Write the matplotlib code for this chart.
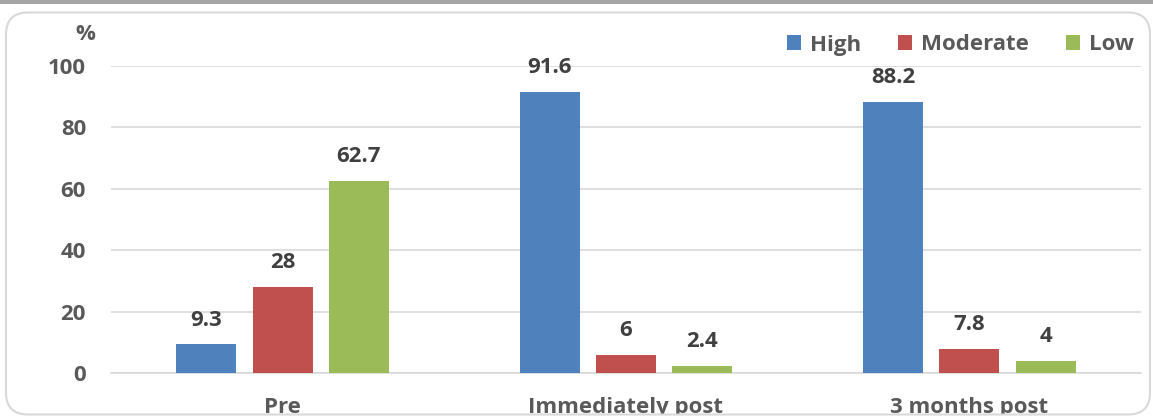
import numpy as np
import matplotlib.pyplot as plt
from matplotlib.patches import FancyBboxPatch, Rectangle, Patch

categorias = ["Pre", "Immediately post", "3 months post"]
niveis = ["High", "Moderate", "Low"]
high = [9.3, 91.6, 88.2]
moderate = [28, 6, 7.8]
low = [62.7, 2.4, 4]
yticks = [0, 20, 40, 60, 80, 100]

cores = ["#4f81bd", "#c0504d", "#9bbb59"]
cinza_texto = "#595959"
cinza_valor = "#404040"
cinza_grade = "#d9d9d9"

plt.rcParams["font.family"] = ["Open Sans", "DejaVu Sans"]
plt.rcParams["font.weight"] = "bold"

W, H = 1153, 419
fig = plt.figure(figsize=(W / 100, H / 100), dpi=100)
ax = fig.add_axes([111 / W, (H - 373) / H, (1141 - 111) / W, (373 - 66) / H])

x = np.arange(len(categorias))
largura = 0.175
desloc = 0.222
series = [high, moderate, low]

for i, (valores, cor) in enumerate(zip(series, cores)):
    pos = x + (i - 1) * desloc
    barras = ax.bar(pos, valores, largura, color=cor, zorder=3)
    for b, v in zip(barras, valores):
        ax.annotate(f"{v:g}", (b.get_x() + b.get_width() / 2, v),
                    xytext=(0, 10), textcoords="offset points",
                    ha="center", va="bottom", fontsize=16,
                    fontweight="bold", color=cinza_valor, zorder=4)

ax.set_xlim(-0.5, 2.5)
ax.set_ylim(0, 100)
ax.set_yticks(yticks)
ax.set_xticks(x)
ax.set_xticklabels(categorias)
ax.tick_params(axis="both", length=0, labelsize=16, labelcolor=cinza_texto)
ax.tick_params(axis="y", pad=18)
ax.tick_params(axis="x", pad=17)
for lbl in ax.get_xticklabels() + ax.get_yticklabels():
    lbl.set_fontweight("bold")

ax.grid(axis="y", color=cinza_grade, linewidth=1.2, zorder=0)
for lado in ["top", "right", "left"]:
    ax.spines[lado].set_visible(False)
ax.spines["bottom"].set_color(cinza_grade)
ax.spines["bottom"].set_linewidth(1.2)
ax.spines["bottom"].set_zorder(2)

fig.text(85 / W, 1 - 35 / H, "%", ha="center", va="center",
         fontsize=16, fontweight="bold", color=cinza_texto)

handles = [Patch(facecolor=c) for c in cores]
leg = fig.legend(handles, niveis, loc="center right", ncol=3,
                 bbox_to_anchor=(1145 / W, 1 - 45 / H), frameon=False,
                 handlelength=0.65, handleheight=0.65, handletextpad=0.4,
                 columnspacing=1.65, borderpad=0,
                 prop={"size": 16, "weight": "bold"})
for t in leg.get_texts():
    t.set_color(cinza_texto)

# faixa cinza no topo e moldura arredondada
fig.patches.append(Rectangle((0, 1 - 4 / H), 1, 4 / H, transform=fig.transFigure,
                             facecolor="#a6a6a6", edgecolor="none", zorder=5))
fig.patches.append(Rectangle((0, 0), 1, 4.5 / H, transform=fig.transFigure,
                             facecolor="white", edgecolor="none", zorder=5))
moldura = FancyBboxPatch((6, 4.5), 1144, 402,
                         boxstyle="round,pad=0,rounding_size=22",
                         transform=None, facecolor="none",
                         edgecolor=cinza_grade, linewidth=1.5, zorder=6)
fig.patches.append(moldura)

fig.savefig("out.png", dpi=100)
